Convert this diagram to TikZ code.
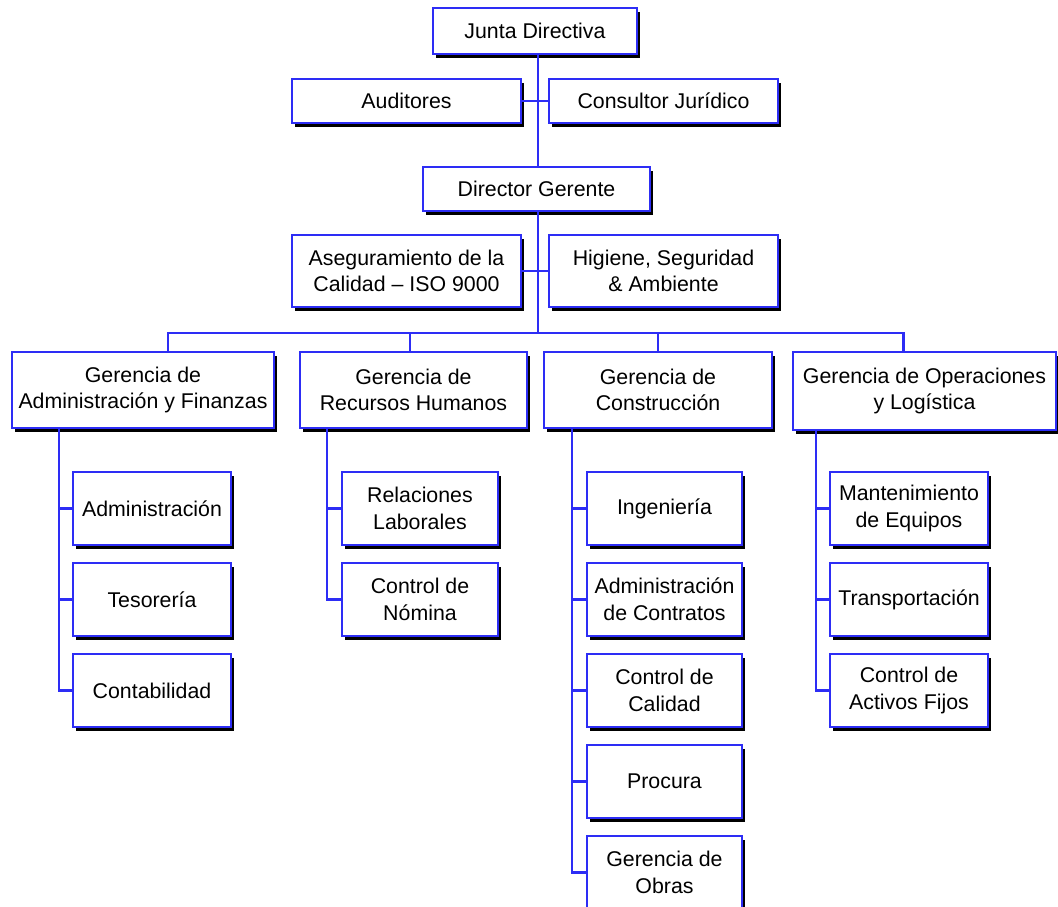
\documentclass[tikz,border=0pt]{standalone}
\usepackage{fontspec}
\setmainfont{Liberation Sans}
\usetikzlibrary{positioning,shadows}
\definecolor{orgblue}{RGB}{45,45,245}

\begin{document}
\begin{tikzpicture}[x=0.75pt,y=-0.75pt,node distance=68.25pt,on grid,
    box/.style={draw=orgblue,line width=1.4pt,fill=white,align=center,inner sep=0pt,
      font=\fontsize{16}{20}\selectfont,
      drop shadow={shadow xshift=2.6pt,shadow yshift=-3.2pt,opacity=1,fill=black}},
    sub/.style={box,minimum height=54.75pt},
    link/.style={draw=orgblue,line width=2.1pt}]
    \useasboundingbox (0,0) rectangle (1058,907);

    \node[box,minimum width=153pt,minimum height=34.5pt]    (JD) at (535,31)    {Junta Directiva};
    \node[box,minimum width=171.75pt,minimum height=33pt]   (AU) at (406.5,101) {Auditores};
    \node[box,minimum width=171.75pt,minimum height=33pt]   (CJ) at (663.5,101) {Consultor Jurídico};
    \node[box,minimum width=170.25pt,minimum height=33pt]   (DG) at (536.5,189) {Director Gerente};
    \node[box,minimum width=171.75pt,minimum height=54pt]   (AC) at (406.5,271) {Aseguramiento de la\\Calidad – ISO 9000};
    \node[box,minimum width=171.75pt,minimum height=54pt]   (HS) at (663.5,271) {Higiene, Seguridad\\\& Ambiente};

    \node[box,minimum width=196.5pt,minimum height=57pt]    (GA) at (143,390)   {Gerencia de\\Administración y Finanzas};
    \node[box,minimum width=170.25pt,minimum height=57pt]   (GR) at (413.5,390) {Gerencia de\\Recursos Humanos};
    \node[box,minimum width=171pt,minimum height=57pt]      (GC) at (658,390)   {Gerencia de\\Construcción};
    \node[box,minimum width=197.25pt,minimum height=58.5pt] (GO) at (924.5,391) {Gerencia de Operaciones\\y Logística};

    \node[sub,minimum width=118.5pt] (A1) at (152,508.5)  {Administración};
    \node[sub,minimum width=118.5pt] (A2) [below =of A1]  {Tesorería};
    \node[sub,minimum width=118.5pt] (A3) [below =of A2]  {Contabilidad};

    \node[sub,minimum width=117pt]   (R1) at (420,508.5)  {Relaciones\\Laborales};
    \node[sub,minimum width=117pt]   (R2) [below =of R1]  {Control de\\Nómina};

    \node[sub,minimum width=116.25pt] (C1) at (664.5,508.5) {Ingeniería};
    \node[sub,minimum width=116.25pt] (C2) [below =of C1]   {Administración\\de Contratos};
    \node[sub,minimum width=116.25pt] (C3) [below =of C2]   {Control de\\Calidad};
    \node[sub,minimum width=116.25pt] (C4) [below =of C3]   {Procura};
    \node[sub,minimum width=116.25pt] (C5) [below =of C4]   {Gerencia de\\Obras};

    \node[sub,minimum width=118.5pt] (O1) at (909,508.5)  {Mantenimiento\\de Equipos};
    \node[sub,minimum width=118.5pt] (O2) [below =of O1]  {Transportación};
    \node[sub,minimum width=118.5pt] (O3) [below =of O2]  {Control de\\Activos Fijos};

    \coordinate (bus) at (538,333);
    \coordinate (ga) at ([xshift=36pt]GA.south west);
    \coordinate (gr) at ([xshift=21pt]GR.south west);
    \coordinate (gc) at ([xshift=21.75pt]GC.south west);
    \coordinate (go) at ([xshift=18pt]GO.south west);

    \draw[link] (JD.south -| bus) -- (DG.north -| bus)
      (DG.south -| bus) -- (bus);
    \draw[link] (AU.east) -- (CJ.west)
      (AC.east) -- (HS.west);
    \draw[link] ([xshift=18.75pt]GA.north) |- (bus) -| ([xshift=-16pt]GO.north)
      ([xshift=-2.6pt]GR.north) |- (bus)
      (bus) -| (GC.north);

    \draw[link] (ga) |- (A1.west) (ga) |- (A2.west) (ga) |- (A3.west);
    \draw[link] (gr) |- (R1.west) (gr) |- (R2.west);
    \draw[link] (gc) |- (C1.west) (gc) |- (C2.west) (gc) |- (C3.west)
      (gc) |- (C4.west) (gc) |- (C5.west);
    \draw[link] (go) |- (O1.west) (go) |- (O2.west) (go) |- (O3.west);
\end{tikzpicture}
\end{document}
